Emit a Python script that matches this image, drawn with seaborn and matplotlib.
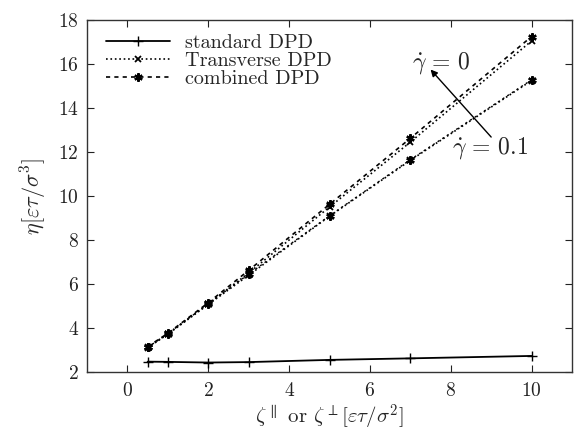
import numpy as np
import pandas as pd
import matplotlib
matplotlib.use("Agg")
import matplotlib.pyplot as plt
import seaborn as sns

# data
zeta = [0.5, 1, 2, 3, 5, 7, 10]
standard = [2.47, 2.46, 2.43, 2.45, 2.55, 2.62, 2.73]
transverse_g0 = [3.12, 3.74, 5.10, 6.50, 9.50, 12.45, 17.05]
transverse_g01 = [3.10, 3.72, 5.07, 6.40, 9.08, 11.62, 15.25]
combined_g0 = [3.15, 3.76, 5.15, 6.62, 9.62, 12.62, 17.25]
combined_g01 = [3.12, 3.74, 5.10, 6.45, 9.10, 11.65, 15.28]
xticks = [0, 2, 4, 6, 8, 10]
yticks = [2, 4, 6, 8, 10, 12, 14, 16, 18]

sns.set_style("ticks")
plt.rcParams["font.family"] = ["cmr10", "DejaVu Serif"]
plt.rcParams["mathtext.fontset"] = "cm"
plt.rcParams["axes.formatter.use_mathtext"] = True

fig = plt.figure(figsize=(5.74, 4.32), dpi=100)
ax = fig.add_axes([0.1516, 0.1389, 0.8449, 0.8148])

common = dict(ax=ax, color="black", markeredgecolor="black", markerfacecolor="black")

sns.lineplot(x=zeta, y=standard, lw=1.3, marker="+",
             markersize=7, markeredgewidth=1.0, label="standard DPD", **common)
sns.lineplot(x=zeta, y=transverse_g0, lw=1.2, linestyle=":",
             marker="x", markersize=5, markeredgewidth=1.3, label="Transverse DPD", **common)
sns.lineplot(x=zeta, y=combined_g0, lw=1.2, dashes=(2.5, 2.5),
             marker=(6, 2, 0), markersize=6, markeredgewidth=1.6, label="combined DPD", **common)
sns.lineplot(x=zeta, y=transverse_g01, lw=1.2, linestyle=":",
             marker="x", markersize=5, markeredgewidth=1.3, label="_nolegend_", **common)
sns.lineplot(x=zeta, y=combined_g01, lw=1.0, dashes=(1.5, 2.5),
             marker=(6, 2, 0), markersize=6, markeredgewidth=1.6, label="_nolegend_", **common)

ax.set_xlim(-1, 11)
ax.set_ylim(2, 18)
ax.set_xticks(xticks)
ax.set_yticks(yticks)
ax.tick_params(direction="in", top=True, right=True, length=5, width=0.8,
               labelsize=14, colors="#222222")
ax.tick_params(axis="x", pad=7)
ax.tick_params(axis="y", pad=6)
for s in ax.spines.values():
    s.set_linewidth(1.0)
    s.set_color("#333333")

ax.set_xlabel(r"$\zeta^{\parallel}$ or $\zeta^{\perp}[\varepsilon\tau/\sigma^{2}]$",
              fontsize=15, labelpad=2)
ax.set_ylabel(r"$\eta[\varepsilon\tau/\sigma^{3}]$", fontsize=16, labelpad=6)

ax.annotate("", xy=(7.5, 15.75), xytext=(9.0, 12.68),
            arrowprops=dict(arrowstyle="-|>", color="black", lw=1.0,
                            mutation_scale=10, shrinkA=0, shrinkB=0))
ax.text(7.05, 16.05, r"$\dot{\gamma}\,=\,0$", fontsize=17, va="center", ha="left")
ax.text(8.02, 12.2, r"$\dot{\gamma}\,=\,0.1$", fontsize=17, va="center", ha="left")

leg = ax.legend(loc="upper left", frameon=False, fontsize=14.5, handlelength=3.2,
                handletextpad=0.7, labelspacing=0.0, borderaxespad=0.4,
                borderpad=0.3, bbox_to_anchor=(0.01, 1.0))

fig.savefig("out.png", dpi=100)
